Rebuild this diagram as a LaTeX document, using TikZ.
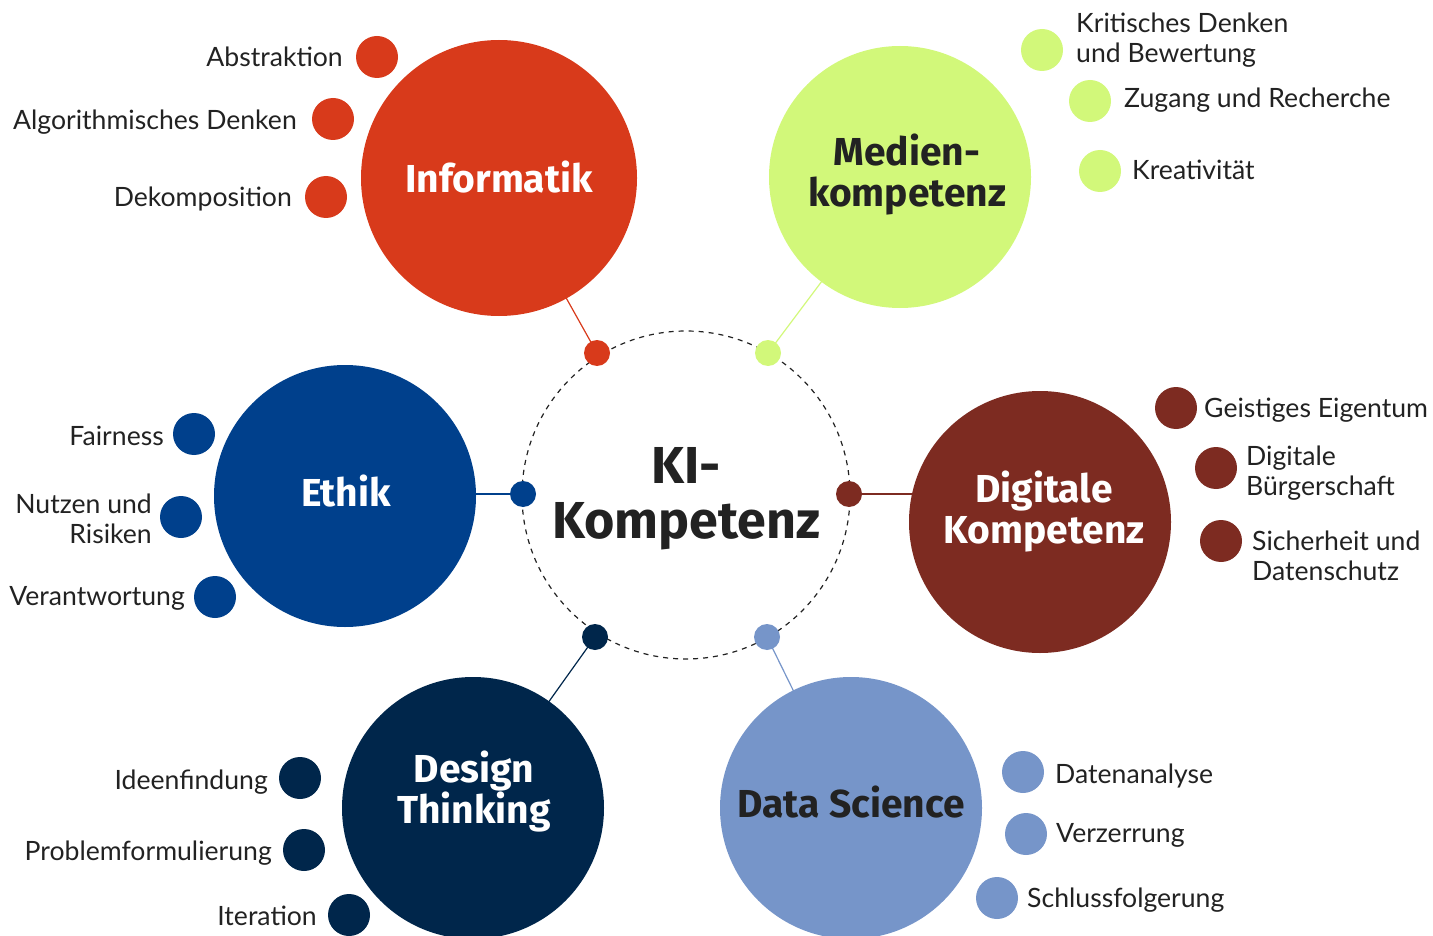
\documentclass[tikz,border=0pt]{standalone}
\usepackage{fontspec}
\setmainfont{Lato}
\newfontfamily\headfont{Fira Sans}
\usetikzlibrary{backgrounds}

\definecolor{infcol}{RGB}{216,58,27}
\definecolor{medcol}{RGB}{210,248,122}
\definecolor{ethcol}{RGB}{0,64,140}
\definecolor{digcol}{RGB}{125,43,33}
\definecolor{descol}{RGB}{0,38,75}
\definecolor{datcol}{RGB}{118,149,201}
\definecolor{inkcol}{RGB}{34,34,34}

\begin{document}
\begin{tikzpicture}[x=1pt,y=-1pt,
  hub/.style={circle, minimum size=262pt, inner sep=0pt, fill=#1},
  joint/.style={circle, minimum size=26pt, inner sep=0pt, fill=#1},
  leaf/.style={circle, minimum size=42pt, inner sep=0pt, fill=#1},
  head/.style={font=\headfont\bfseries\fontsize{39}{41}\selectfont, align=center, inner sep=0pt, anchor=base},
  lbl/.style={font=\fontsize{26.6}{30}\selectfont, text=inkcol, inner sep=0pt},
  lblL/.style={lbl, anchor=base west, align=left},
  lblR/.style={lbl, anchor=base east, align=right},
  spoke/.style={line width=1.2pt, draw=#1},
]
\useasboundingbox (0,0) rectangle (1433,936);

% central dashed ring
\node[draw=inkcol, dash pattern=on 5pt off 5pt, line width=1.2pt, circle,
      minimum size=328pt, inner sep=0pt] (ring) at (686,495) {};

% main topic circles
\node[hub=infcol, minimum size=276pt] (inf) at (499,178) {};
\node[hub=medcol] (med) at (900,177) {};
\node[hub=ethcol] (eth) at (345,496) {};
\node[hub=digcol] (dig) at (1040,522) {};
\node[hub=descol] (des) at (473,808) {};
\node[hub=datcol] (dat) at (851,808) {};

% joints on the ring
\node[joint=infcol] (jinf) at (597,353) {};
\node[joint=medcol] (jmed) at (768,353) {};
\node[joint=ethcol] (jeth) at (523,494) {};
\node[joint=digcol] (jdig) at (849,494) {};
\node[joint=descol] (jdes) at (595,637) {};
\node[joint=datcol] (jdat) at (767,637) {};

% spokes from the joints to the topic circles
\begin{scope}[on background layer]
  \draw[spoke=infcol] (jinf.center) -- (inf.center);
  \draw[spoke=medcol] (jmed.center) -- (med.center);
  \draw[spoke=ethcol] (jeth.center) -- (jeth.center -| eth.center);
  \draw[spoke=digcol] (jdig.center) -- (jdig.center -| dig.center);
  \draw[spoke=descol] (jdes.center) -- (des.center);
  \draw[spoke=datcol] (jdat.center) -- (dat.center);
\end{scope}

% headings (anchored at the baseline of their last line)
\node[head, text=white] (hinf) at (499,193) {Informatik};
\node[head, text=inkcol] (hmed) at (907,207) {Medien-\\kompetenz};
\node[head, text=white] (heth) at (346,506) {Ethik};
\node[head, text=white] (hdig) at (1044,543) {Digitale\\Kompetenz};
\node[head, text=white] (hdes) at (474,823) {Design\\Thinking};
\node[head, text=inkcol] (hdat) at (851,817) {Data Science};
\node[head, text=inkcol, font=\headfont\bfseries\fontsize{52}{55}\selectfont] (hki) at (686,538) {KI-\\Kompetenz};

% Informatik
\node[leaf=infcol] (a1) at (377,57) {};
\node[leaf=infcol] (a2) at (333,119) {};
\node[leaf=infcol] (a3) at (326,197) {};
\node[lblR] (ta1) at (343,67) {Abstraktion};
\node[lblR] (ta2) at (297,130) {Algorithmisches Denken};
\node[lblR] (ta3) at (292,207) {Dekomposition};

% Medienkompetenz
\node[leaf=medcol] (b1) at (1042,50) {};
\node[leaf=medcol] (b2) at (1090,101) {};
\node[leaf=medcol] (b3) at (1100,171) {};
\node[lblL] (tb1) at (1076,63) {Kritisches Denken\\und Bewertung};
\node[lblL] (tb2) at (1124,108) {Zugang und Recherche};
\node[lblL] (tb3) at (1132,180) {Kreativität};

% Digitale Kompetenz
\node[leaf=digcol] (c1) at (1176,408) {};
\node[leaf=digcol] (c2) at (1216,468) {};
\node[leaf=digcol] (c3) at (1221,541) {};
\node[lblL] (tc1) at (1204,417) {Geistiges Eigentum};
\node[lblL] (tc2) at (1246,495) {Digitale\\Bürgerschaft};
\node[lblL] (tc3) at (1252,580) {Sicherheit und\\Datenschutz};

% Ethik
\node[leaf=ethcol] (d1) at (194,434) {};
\node[leaf=ethcol] (d2) at (181,517) {};
\node[leaf=ethcol] (d3) at (215,597) {};
\node[lblR] (td1) at (164,445) {Fairness};
\node[lblR] (td2) at (152,543) {Nutzen und\\Risiken};
\node[lblR] (td3) at (185,605) {Verantwortung};

% Design Thinking
\node[leaf=descol] (e1) at (300,778) {};
\node[leaf=descol] (e2) at (304,850) {};
\node[leaf=descol] (e3) at (349,915) {};
\node[lblR] (te1) at (268,789) {Ideenfindung};
\node[lblR] (te2) at (272,860) {Problemformulierung};
\node[lblR] (te3) at (317,925) {Iteration};

% Data Science
\node[leaf=datcol] (f1) at (1023,772) {};
\node[leaf=datcol] (f2) at (1026,834) {};
\node[leaf=datcol] (f3) at (997,898) {};
\node[lblL] (tf1) at (1055,783) {Datenanalyse};
\node[lblL] (tf2) at (1056,842) {Verzerrung};
\node[lblL] (tf3) at (1027,907) {Schlussfolgerung};
\end{tikzpicture}
\end{document}
